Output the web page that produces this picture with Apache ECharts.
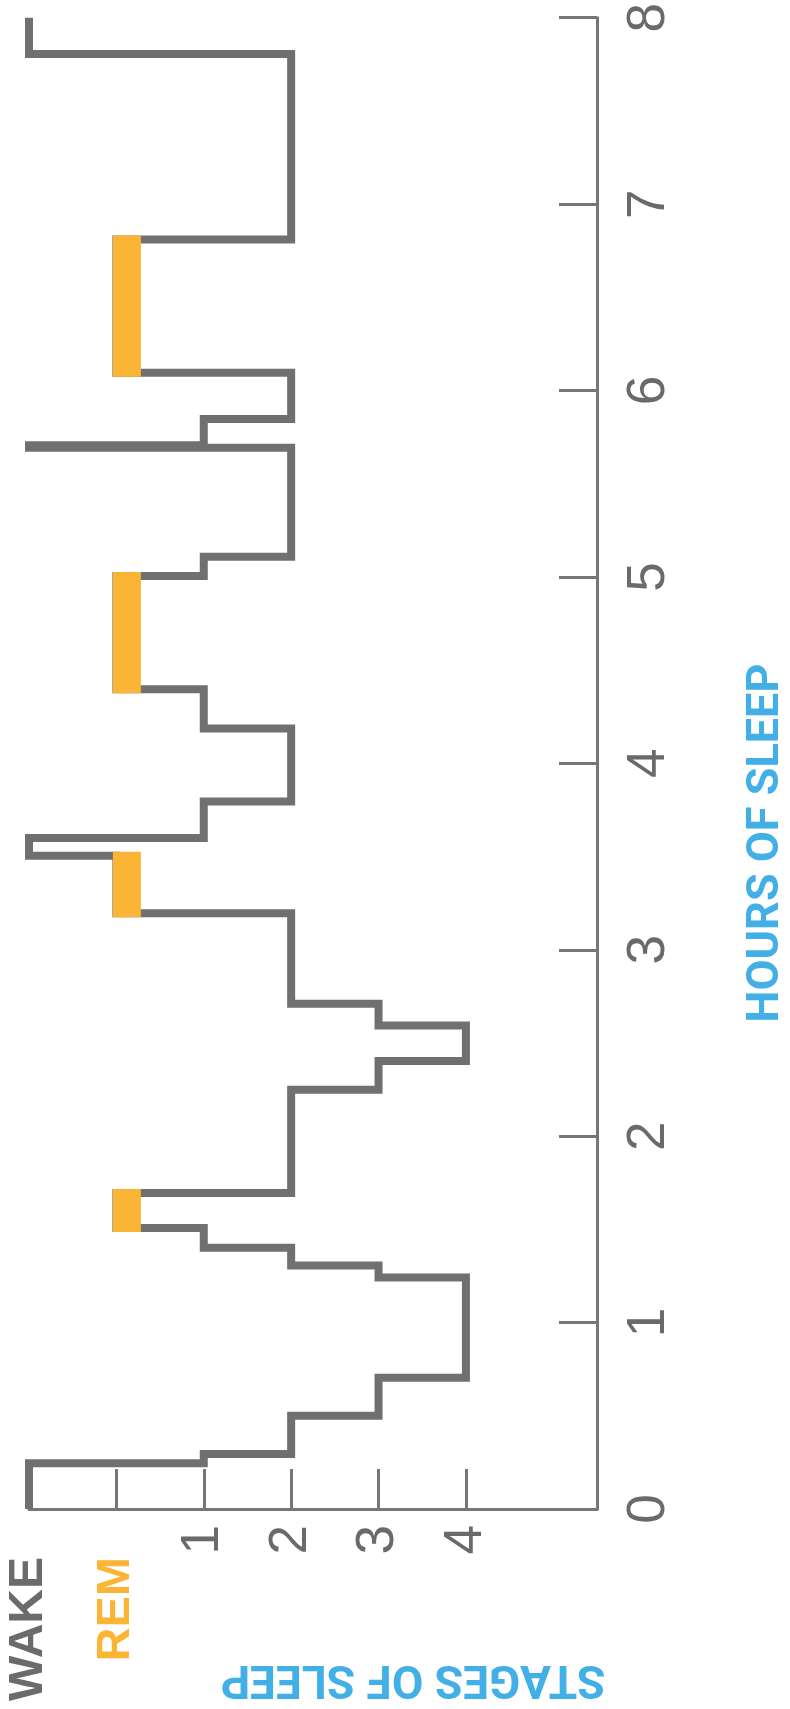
<!DOCTYPE html>
<html>
<head>
<meta charset="utf-8">
<title>Stages of sleep</title>
<script src="https://cdn.jsdelivr.net/npm/echarts@6/dist/echarts.min.js"></script>
<style>
  html, body { margin: 0; padding: 0; background: #ffffff; }
  #chart { width: 790px; height: 1709px; }
</style>
</head>
<body>
<div id="chart"></div>
<script>
// stage labels, index = depth position on the stage axis
const stageNames = ['WAKE', 'REM', '1', '2', '3', '4'];

// hypnogram: hour where each stage starts, and the stage entered
const changeHours = [0, 0.245, 0.295, 0.50, 0.704, 1.242, 1.306, 1.402, 1.508, 1.695,
    2.249, 2.403, 2.594, 2.710, 3.196, 3.505, 3.600, 3.796, 4.187, 4.398,
    5.005, 5.109, 5.693, 5.707, 5.848, 6.095, 6.810, 7.806];
const changeStage = ['WAKE', '1', '2', '3', '4', '3', '2', '1', 'REM', '2',
    '3', '4', '3', '2', 'REM', 'WAKE', '1', '2', '1', 'REM',
    '1', '2', 'WAKE', '1', '2', 'REM', '2', 'WAKE'];
const endHour = 8.0;

const hourMin = 0, hourMax = 8;

// build the step path and REM spans from the arrays above
const pathData = [];
const remSpans = [];
changeHours.forEach((h, i) => {
    const end = i + 1 < changeHours.length ? changeHours[i + 1] : endHour;
    const s = stageNames.indexOf(changeStage[i]);
    pathData.push([s, h], [s, end]);
    if (changeStage[i] === 'REM') remSpans.push([s, h, end]);
});

const chart = echarts.init(document.getElementById('chart'));

chart.setOption({
    backgroundColor: '#ffffff',
    animation: false,
    grid: { left: 29, right: 193, top: 16, bottom: 200 },
    xAxis: {
        type: 'value',
        min: 0,
        max: 6.5,
        position: 'bottom',
        splitLine: { show: false },
        axisLine: { show: true, onZero: false, lineStyle: { color: '#767676', width: 3 } },
        axisTick: {
            show: true, inside: true, length: 40,
            customValues: [1, 2, 3, 4, 5],
            lineStyle: { color: '#767676', width: 3 }
        },
        axisLabel: {
            customValues: [0, 1, 2, 3, 4, 5],
            rotate: 90,
            margin: 16,
            formatter: function (v) {
                const name = stageNames[Math.round(v)];
                if (name === 'WAKE') return '{wake|WAKE}';
                if (name === 'REM') return '{rem|REM}';
                return '{num|' + name + '}';
            },
            rich: {
                wake: { fontFamily: 'Liberation Sans', fontWeight: 'bold', fontSize: 48, color: '#6B6B6B', padding: [0, 32, 0, 0] },
                rem: { fontFamily: 'Liberation Sans', fontWeight: 'bold', fontSize: 47, color: '#FBB534', padding: [0, 32, 0, 0] },
                num: { fontFamily: 'Liberation Sans', fontSize: 53, color: '#6A6A6A' }
            }
        }
    },
    yAxis: {
        type: 'value',
        position: 'right',
        min: hourMin,
        max: hourMax,
        interval: 1,
        splitLine: { show: false },
        axisLine: { show: true, onZero: false, lineStyle: { color: '#767676', width: 3 } },
        axisTick: { show: true, inside: true, length: 38, lineStyle: { color: '#767676', width: 3 } },
        axisLabel: {
            rotate: 90,
            margin: 26,
            fontFamily: 'Liberation Sans',
            fontSize: 53,
            color: '#6A6A6A'
        }
    },
    graphic: [
        {
            type: 'text',
            x: 413, y: 1677,
            rotation: Math.PI,
            style: {
                text: 'STAGES OF SLEEP',
                fontFamily: 'Roboto', fontWeight: 'bold', fontSize: 46,
                fill: '#42B0E6', align: 'center', verticalAlign: 'middle'
            }
        },
        {
            type: 'text',
            x: 767, y: 843,
            rotation: Math.PI / 2,
            style: {
                text: 'HOURS OF SLEEP',
                fontFamily: 'Roboto', fontWeight: 'bold', fontSize: 45,
                fill: '#42B0E6', align: 'center', verticalAlign: 'middle'
            }
        }
    ],
    series: [
        {
            name: 'stage',
            type: 'line',
            data: pathData,
            symbol: 'none',
            clip: false,
            z: 2,
            lineStyle: { color: '#707070', width: 8, cap: 'butt', join: 'miter' }
        },
        {
            name: 'REM',
            type: 'custom',
            data: remSpans,
            encode: { x: 0, y: [1, 2] },
            z: 3,
            renderItem: function (params, api) {
                const lo = api.coord([api.value(0), api.value(1)]);
                const hi = api.coord([api.value(0), api.value(2)]);
                return {
                    type: 'rect',
                    shape: { x: lo[0] - 3.5, y: hi[1] - 4, width: 28, height: lo[1] - hi[1] + 8 },
                    style: { fill: '#FBB534' }
                };
            }
        }
    ]
});
</script>
</body>
</html>
